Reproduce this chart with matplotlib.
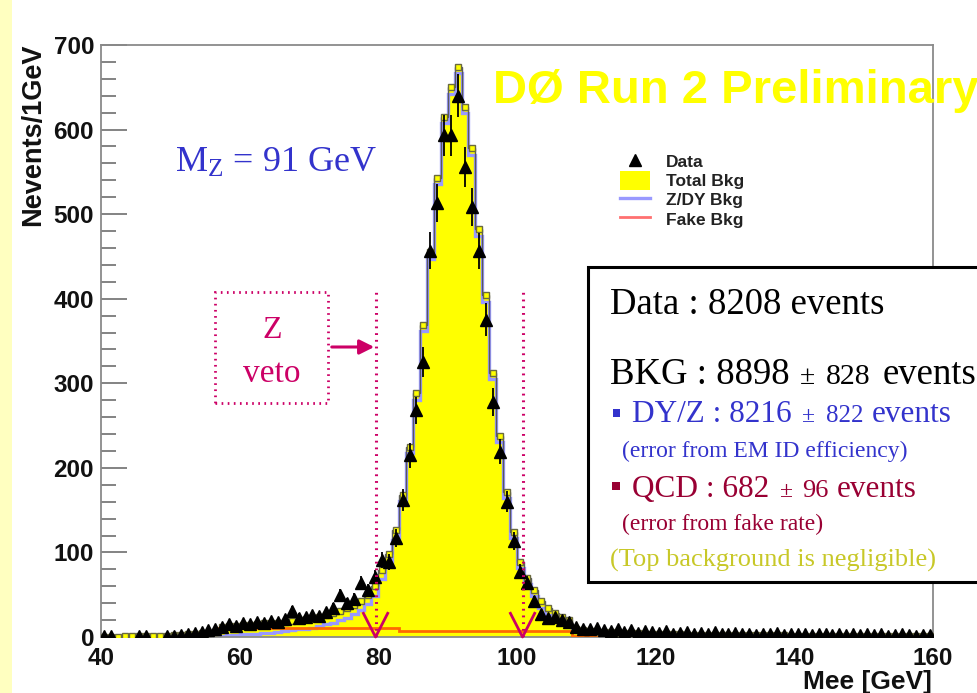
import numpy as np
import matplotlib
matplotlib.use("Agg")
import matplotlib.pyplot as plt
from matplotlib.patches import Rectangle, Patch, FancyArrowPatch
from matplotlib.lines import Line2D
from matplotlib.ticker import MultipleLocator

# ---------------- data (1 GeV bins, 40..160 GeV) ----------------
bin_edges = np.arange(40, 161, 1)

total_bkg = [
    0.5, 0.5, 0.5, 0.6, 0.6, 0.7, 0.8, 1.0, 1.2, 1.5,
    2.0, 2.5, 3.5, 4.0, 4.5, 5.0, 6.0, 12, 13, 13,
    14, 14, 15, 16, 16, 17, 18, 19, 20, 21,
    22, 24, 26, 28, 31, 34, 38, 43, 50, 60,
    79, 98, 126, 168, 225, 288, 369, 455, 543, 615,
    650, 674, 627, 578, 482, 404, 312, 238, 172, 124,
    89, 70, 56, 42, 34, 28, 24, 20, 9, 8,
    7, 6.5, 6, 5.5, 5, 4.8, 4.5, 4.2, 4.0, 3.8,
    3.5, 3.3, 3.1, 3.0, 2.9, 2.8, 2.7, 2.6, 2.5, 2.4,
    2.3, 2.2, 2.1, 2.0, 2.0, 1.9, 1.9, 1.8, 1.8, 1.7,
    1.7, 1.6, 1.6, 1.5, 1.5, 1.5, 1.4, 1.4, 1.4, 1.3,
    1.3, 1.3, 1.2, 1.2, 1.2, 1.1, 1.1, 1.1, 1.0, 1.0,
]

fake_bkg = (
    [0.5] * 12 + [3.0] * 5 + [11.0] * 26 + [7.5] * 25 + [1.2] * 52
)

data_counts = [
    1, 1, 0, 0, 0, 1, 1, 0, 0, 1,
    1, 2, 3, 5, 6, 8, 10, 12, 15, 13,
    17, 15, 18, 16, 19, 18, 21, 31, 23, 24,
    26, 25, 29, 34, 50, 40, 45, 64, 55, 71,
    91, 89, 117, 162, 215, 268, 325, 457, 513, 593,
    593, 640, 556, 508, 456, 375, 278, 219, 160, 113,
    77, 64, 42, 27, 22, 24, 20, 18, 12, 10,
    9, 11, 8, 7, 9, 6, 8, 5, 7, 6,
    5, 7, 4, 5, 6, 3, 5, 4, 6, 3,
    4, 5, 3, 4, 2, 4, 3, 5, 2, 3,
    4, 3, 2, 3, 4, 2, 3, 2, 3, 2,
    3, 2, 3, 1, 2, 3, 2, 1, 2, 2,
]

x_ticks = [40, 60, 80, 100, 120, 140, 160]
y_ticks = [0, 100, 200, 300, 400, 500, 600, 700]
veto_edges = [79.6, 100.8]

legend_labels = ["Data", "Total Bkg", "Z/DY Bkg", "Fake Bkg"]
box_lines = {
    "data": "Data : 8208 events",
    "bkg": ("BKG : 8898", "\u00b1", "828", "events"),
    "dy": ("DY/Z : 8216", "\u00b1", "822", "events"),
    "dy_err": "(error from EM ID efficiency)",
    "qcd": ("QCD : 682", "\u00b1", "96", "events"),
    "qcd_err": "(error from fake rate)",
    "top": "(Top background is negligible)",
}

# ---------------- style ----------------
plt.rcParams["font.family"] = ["Liberation Sans", "DejaVu Sans"]
plt.rcParams["font.weight"] = "bold"
W, H = 978, 693
fig = plt.figure(figsize=(W / 100, H / 100), dpi=100, facecolor="white")

def fx(px):
    return px / W

def fy(py):
    return 1 - py / H

ax = fig.add_axes([fx(101), fy(637), (933 - 101) / W, (637 - 45) / H])

total = np.array(total_bkg, dtype=float)
fake = np.array(fake_bkg, dtype=float)
dy = total - fake
data = np.array(data_counts, dtype=float)
centers = 0.5 * (bin_edges[:-1] + bin_edges[1:])

ax.stairs(total, bin_edges, fill=True, color="#ffff00", baseline=0, zorder=1)
ax.stairs(dy, bin_edges, color="#9999ff", lw=2.4, baseline=None, zorder=2)
ax.stairs(total, bin_edges, color="#5a5a5a", lw=1.0, baseline=None, zorder=3)
ax.stairs(fake, bin_edges, color="#ff6a00", lw=2.0, baseline=None, zorder=3)
ax.plot(centers, total, "s", ms=4.5, mfc="#ffff00", mec="#6a6a40", mew=1.0,
        ls="none", zorder=4)

mask = data > 0
ax.errorbar(centers[mask], data[mask], yerr=np.sqrt(data[mask]), fmt="^",
            color="black", ms=8.5, elinewidth=1.3, capsize=0, zorder=5)

ax.set_xlim(40, 160)
ax.set_ylim(0, 700)
ax.set_xticks(x_ticks)
ax.set_yticks(y_ticks)
ax.yaxis.set_minor_locator(MultipleLocator(20))
ax.tick_params(axis="y", which="major", direction="in", length=18.5, width=1.3,
               color="#7a7a7a", pad=5, labelsize=17.5, labelcolor="#111111")
ax.tick_params(axis="y", which="minor", direction="in", length=10.5, width=1.3,
               color="#7a7a7a")
ax.tick_params(axis="x", which="both", length=0, pad=7, labelsize=17.5,
               labelcolor="#111111")
for lab in ax.get_xticklabels() + ax.get_yticklabels():
    lab.set_fontweight("bold")
for sp in ax.spines.values():
    sp.set_color("#8a8a8a")
    sp.set_linewidth(1.3)

# veto lines and arrow heads
mag = "#cc0066"
top_val = 410
ax.vlines(veto_edges, 0, top_val, colors=mag, linestyles=(0, (0.6, 1.6)),
          lw=2.2, zorder=6)
for v in veto_edges:
    ax.plot([v - 1.75, v, v + 1.75], [28, 0, 28], color=mag, lw=2.0, zorder=6,
            clip_on=False)

# legend
handles = [
    Line2D([], [], marker="^", color="black", ls="none", ms=8),
    Patch(facecolor="#ffff00", edgecolor="none"),
    Line2D([], [], color="#9999ff", lw=2.4),
    Line2D([], [], color="#ff7070", lw=2.0),
]
leg = ax.legend(handles, legend_labels, loc="upper left",
                bbox_to_anchor=(fx(620), fy(152)), bbox_transform=fig.transFigure,
                frameon=False, prop={"weight": "bold", "size": 12.5},
                handlelength=1.75, handleheight=1.25, labelspacing=0.05,
                handletextpad=0.9, borderpad=0, borderaxespad=0)
for t in leg.get_texts():
    t.set_color("#222222")

# left yellow strip
fig.patches.append(Rectangle((0, 0), fx(12), 1, transform=fig.transFigure,
                             facecolor="#ffffc0", edgecolor="none", zorder=0))

# axis titles
fig.text(fx(33), fy(43), "Nevents/1GeV", rotation=90, ha="center", va="top",
         fontsize=19.5, fontweight="bold", color="#111111")
fig.text(fx(932), fy(670), "Mee [GeV]", ha="right", va="top",
         fontsize=19, fontweight="bold", color="#111111")

# DØ title
fig.text(fx(493), fy(103), "D\u00d8 Run 2 Preliminary", ha="left", va="baseline",
         fontsize=34, fontweight="bold", color="#ffff00", zorder=5)

serif = ["Liberation Serif", "DejaVu Serif"]
blue = "#3333cc"
dred = "#990033"
olive = "#c8c828"

# M_Z
fig.text(fx(175), fy(172), r"$\mathregular{M_Z}$ = 91 GeV", ha="left",
         va="baseline", fontsize=26, fontweight="normal", family=serif,
         color=blue)

# Z veto box + arrow
fig.patches.append(Rectangle((fx(215), fy(403)), fx(328 - 215), (403 - 292) / H,
                             transform=fig.transFigure, facecolor="none",
                             edgecolor=mag, lw=2.0, linestyle=(0, (0.6, 1.6)),
                             zorder=4))
fig.text(fx(272), fy(338), "Z", ha="center", va="baseline", fontsize=23,
         fontweight="normal", family=serif, color=mag)
fig.text(fx(272), fy(382), "veto", ha="center", va="baseline", fontsize=24,
         fontweight="normal", family=serif, color=mag)
fig.add_artist(FancyArrowPatch((fx(329), fy(347)), (fx(377), fy(347)),
                               transform=fig.transFigure, arrowstyle="-|>",
                               mutation_scale=22, color=mag, lw=2.2, zorder=6))

# info box
fig.patches.append(Rectangle((fx(588), fy(582)), fx(1000 - 588), (582 - 267) / H,
                             transform=fig.transFigure, facecolor="white",
                             edgecolor="black", lw=2.2, zorder=2))

def put(px, py, s, size, color):
    fig.text(fx(px), fy(py), s, ha="left", va="baseline", fontsize=size,
             fontweight="normal", family=serif, color=color, zorder=6)

put(610, 314, box_lines["data"], 26.5, "black")
b = box_lines["bkg"]
put(610, 384, b[0], 26.5, "black")
put(800, 384, b[1], 20, "black")
put(826, 384, b[2], 21.5, "black")
put(883, 384, b[3], 26.5, "black")

d = box_lines["dy"]
fig.patches.append(Rectangle((fx(613), fy(417)), fx(7), 8 / H,
                             transform=fig.transFigure, facecolor=blue,
                             edgecolor="none", zorder=6))
put(632, 422, d[0], 22.5, blue)
put(802, 422, d[1], 17, blue)
put(826, 422, d[2], 18, blue)
put(872, 422, d[3], 22.5, blue)
put(622, 457, box_lines["dy_err"], 17, blue)

q = box_lines["qcd"]
fig.patches.append(Rectangle((fx(612), fy(490)), fx(8), 8 / H,
                             transform=fig.transFigure, facecolor=dred,
                             edgecolor="none", zorder=6))
put(632, 497, q[0], 22.5, dred)
put(780, 497, q[1], 17, dred)
put(802, 497, q[2], 19, dred)
put(837, 497, q[3], 22.5, dred)
put(622, 530, box_lines["qcd_err"], 17, dred)
put(610, 567, box_lines["top"], 19, olive)

fig.savefig("out.png", dpi=100, facecolor="white")
